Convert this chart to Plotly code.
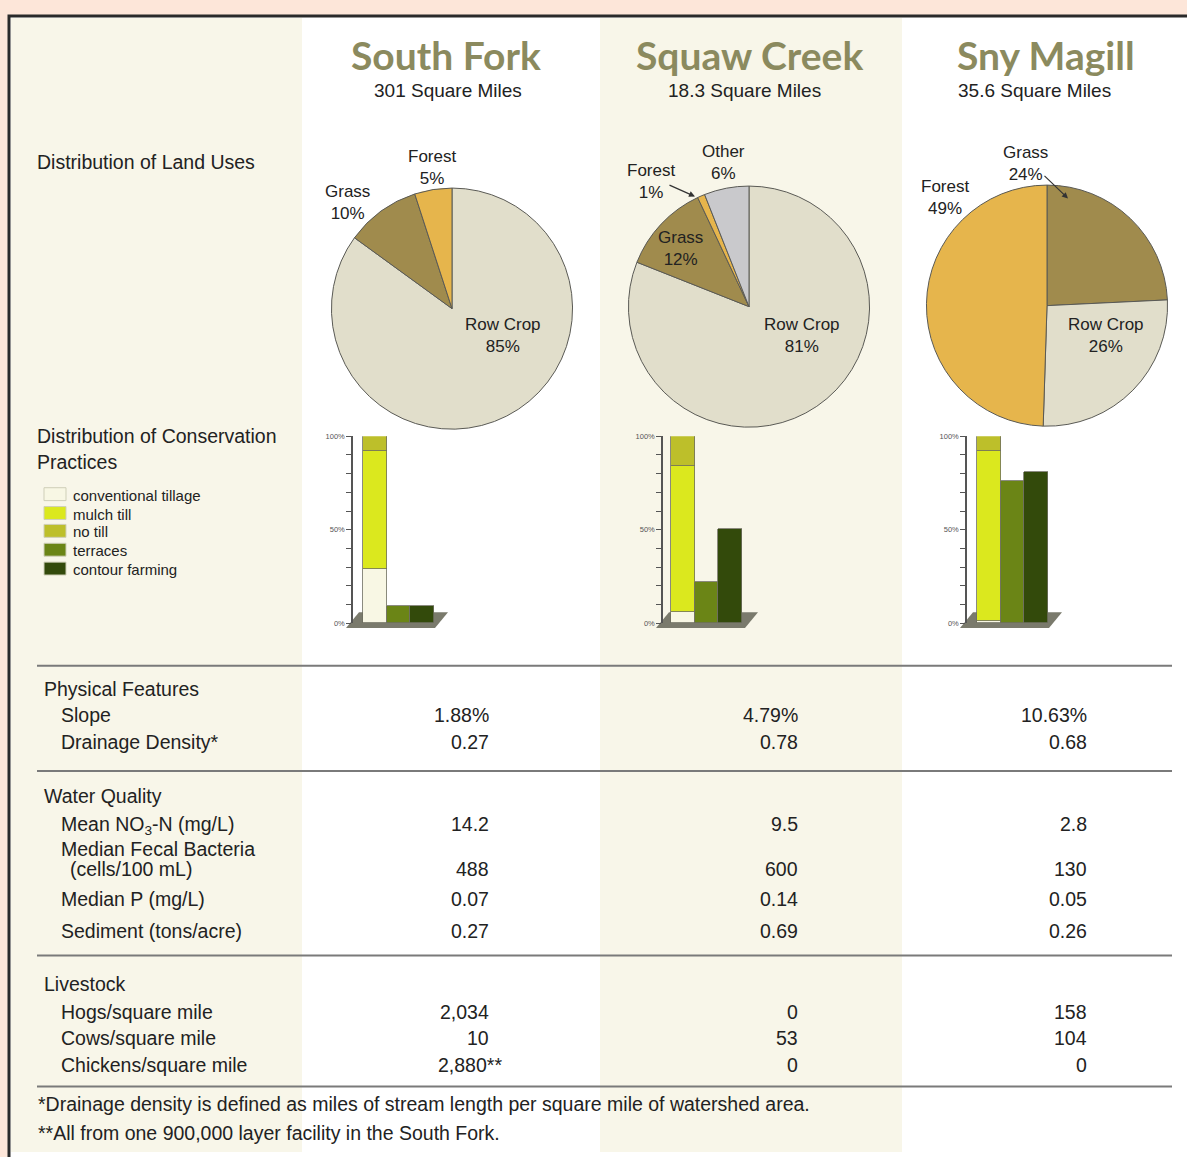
import plotly.graph_objects as go

W, H = 1187, 1157

def px(x):
    return x / W

def py(y):
    return 1 - y / H

# ---------------- DATA ----------------
watersheds = ["South Fork", "Squaw Creek", "Sny Magill"]
areas = ["301 Square Miles", "18.3 Square Miles", "35.6 Square Miles"]

land_labels_sf = ["Row Crop", "Grass", "Forest"]
land_values_sf = [85, 10, 5]
land_labels_sc = ["Row Crop", "Grass", "Forest", "Other"]
land_values_sc = [81, 12, 1, 6]
land_labels_sm = ["Grass", "Row Crop", "Forest"]
land_values_sm = [24, 26, 49]

practices = ["conventional tillage", "mulch till", "no till", "terraces", "contour farming"]
conv_tillage = [29, 6, 1]
mulch_till = [63, 78, 91]
no_till = [8, 16, 8]
terraces = [9, 22, 76]
contour_farming = [9, 50, 81]

slope = ["1.88%", "4.79%", "10.63%"]
drainage = ["0.27", "0.78", "0.68"]
no3 = ["14.2", "9.5", "2.8"]
fecal = ["488", "600", "130"]
median_p = ["0.07", "0.14", "0.05"]
sediment = ["0.27", "0.69", "0.26"]
hogs = ["2,034", "0", "158"]
cows = ["10", "53", "104"]
chickens = ["2,880**", "0", "0"]

# ---------------- STYLE ----------------
land_colors = {"Row Crop": "#e1decb", "Grass": "#a08b4d", "Forest": "#e6b54c", "Other": "#c9c9cc"}
practice_colors = ["#f8f7e4", "#dbe81e", "#bdbf2a", "#6b8516", "#334a0b"]
TXT = "#222222"
SANS = "Liberation Sans, Arial, sans-serif"
TITLE_COLOR = "#8b8a5e"
FS = 19.5

fig = go.Figure()
shapes = []
annotations = []

# background panels
shapes.append(dict(type="rect", xref="paper", yref="paper", x0=px(9), x1=px(1195), y0=py(12), y1=py(1170),
                   fillcolor="white", line=dict(color="#2a2a2a", width=3), layer="below"))
for x0, x1 in [(11, 302), (600, 902)]:
    shapes.append(dict(type="rect", xref="paper", yref="paper", x0=px(x0), x1=px(x1), y0=py(14), y1=py(1157),
                       fillcolor="#f8f6e9", line=dict(width=0), layer="below"))

# titles
title_x = [446, 749, 1046]
sub_x = [448, 744, 1034]
for i, name in enumerate(watersheds):
    annotations.append(dict(x=px(title_x[i]), y=py(51), xref="paper", yref="paper", text=name, showarrow=False,
                            font=dict(family="Lato, Open Sans, sans-serif", size=39, color=TITLE_COLOR, weight="bold"),
                            xanchor="center", yanchor="middle"))
    annotations.append(dict(x=px(sub_x[i]), y=py(87), xref="paper", yref="paper", text=areas[i], showarrow=False,
                            font=dict(family=SANS, size=19, color=TXT), xanchor="center", yanchor="middle"))

# left labels
for txt, y in [("Distribution of Land Uses", 159), ("Distribution of Conservation", 435), ("Practices", 462)]:
    annotations.append(dict(x=px(35), y=py(y), xref="paper", yref="paper", text=txt, showarrow=False,
                            font=dict(family=SANS, size=FS, color=TXT), xanchor="left", yanchor="middle"))

# ---------------- PIES ----------------
pie_sets = [(land_labels_sf, land_values_sf, (452, 307)),
            (land_labels_sc, land_values_sc, (749, 305)),
            (land_labels_sm, land_values_sm, (1047, 304))]
R = 121.5
for labels, values, (cx, cy) in pie_sets:
    fig.add_trace(go.Pie(labels=labels, values=values, sort=False, direction="clockwise", rotation=0,
                         textinfo="none", hoverinfo="label+percent", showlegend=False,
                         marker=dict(colors=[land_colors[l] for l in labels], line=dict(color="#5a5a55", width=1)),
                         domain=dict(x=[px(cx - R), px(cx + R)], y=[py(cy + R), py(cy - R)])))

# pie labels (positions are layout only)
pie_label_pos = [
    {"Forest": (432, 165), "Grass": (347, 200), "Row Crop": (503, 334)},
    {"Forest": (651, 179), "Other": (723, 160), "Grass": (680, 246), "Row Crop": (802, 334)},
    {"Grass": (1025, 161), "Forest": (945, 195), "Row Crop": (1106, 334)},
]
for (labels, values, _), pos in zip(pie_sets, pie_label_pos):
    for lab, val in zip(labels, values):
        x, y = pos[lab]
        annotations.append(dict(x=px(x), y=py(y), xref="paper", yref="paper", text=f"{lab}<br>{val}%",
                                showarrow=False, font=dict(family=SANS, size=17, color=TXT),
                                xanchor="center", yanchor="middle"))
# arrows
for (hx, hy, tx, ty) in [(695, 194, 668, 182), (1068, 196, 1043, 172)]:
    annotations.append(dict(x=px(hx), y=py(hy), xref="paper", yref="paper", text="", showarrow=True,
                            ax=tx - hx, ay=ty - hy, arrowhead=2, arrowsize=1, arrowwidth=1.2, arrowcolor="#333"))

# ---------------- BAR CHARTS ----------------
axis_x = [353, 663, 967]
first_left = [363, 671, 977]
unit = 23.5
y_top, y_bot = 435.7, 624.0
for i in range(3):
    n = "" if i == 0 else str(i + 1)
    xa, ya = "x" + n, "y" + n
    series = [(0, conv_tillage[i]), (0, mulch_till[i]), (0, no_till[i]), (1, terraces[i]), (2, contour_farming[i])]
    for k, (xpos, val) in enumerate(series):
        fig.add_trace(go.Bar(x=[xpos], y=[val], width=1, name=practices[k], showlegend=False,
                             marker=dict(color=practice_colors[k], line=dict(color="#6e6e60", width=0.8)),
                             xaxis=xa, yaxis=ya))
    start = -0.5 - (first_left[i] - axis_x[i]) / unit
    span_px = 110
    fig.layout["xaxis" + n] = dict(domain=[px(axis_x[i]), px(axis_x[i] + span_px)],
                                   range=[start, start + span_px / unit], visible=False, anchor=ya, fixedrange=True)
    fig.layout["yaxis" + n] = dict(domain=[py(y_bot), py(y_top)], range=[0, 100], anchor=xa,
                                   tickvals=list(range(0, 101, 10)),
                                   ticktext=["0%" if v == 0 else "50%" if v == 50 else "100%" if v == 100 else ""
                                             for v in range(0, 101, 10)],
                                   ticks="outside", ticklen=5, tickcolor="#555", tickwidth=1.2,
                                   tickfont=dict(family=SANS, size=7.5, color="#555"),
                                   showline=True, linecolor="#555", linewidth=1.5,
                                   showgrid=False, zeroline=False, fixedrange=True)
    a = axis_x[i]
    shapes.append(dict(type="path", xref="paper", yref="paper",
                       path=f"M {px(a-7)},{py(629)} L {px(a+82)},{py(629)} L {px(a+95)},{py(613)} L {px(a+6)},{py(613)} Z",
                       fillcolor="#7a7a6c", line=dict(width=0), layer="below"))

# legend (drawn)
leg_y = [494, 513, 531, 550, 569]
for k, name in enumerate(practices):
    shapes.append(dict(type="rect", xref="paper", yref="paper", x0=px(44), x1=px(66),
                       y0=py(leg_y[k] + 6.5), y1=py(leg_y[k] - 6.5),
                       fillcolor=practice_colors[k], line=dict(color="#cfcfb8", width=1)))
    annotations.append(dict(x=px(71), y=py(leg_y[k] + 1), xref="paper", yref="paper", text=name, showarrow=False,
                            font=dict(family=SANS, size=15, color=TXT), xanchor="left", yanchor="middle"))

# ---------------- TABLE ----------------
for y in [667, 773, 959, 1091]:
    shapes.append(dict(type="line", xref="paper", yref="paper", x0=px(37), x1=px(1172), y0=py(y), y1=py(y),
                       line=dict(color="#7a7a7a", width=2)))

headers = [("Physical Features", 690), ("Water Quality", 798), ("Livestock", 988)]
for txt, y in headers:
    annotations.append(dict(x=px(42), y=py(y), xref="paper", yref="paper", text=txt, showarrow=False,
                            font=dict(family=SANS, size=FS, color=TXT), xanchor="left", yanchor="middle"))

row_labels = [("Slope", 59, 717), ("Drainage Density*", 59, 744),
              ("Mean NO<sub>3</sub>-N (mg/L)", 59, 828), ("Median Fecal Bacteria", 59, 852),
              ("(cells/100 mL)", 68, 872), ("Median P (mg/L)", 59, 902), ("Sediment (tons/acre)", 59, 934),
              ("Hogs/square mile", 59, 1016), ("Cows/square mile", 59, 1042), ("Chickens/square mile", 59, 1069)]
for txt, x, y in row_labels:
    annotations.append(dict(x=px(x), y=py(y), xref="paper", yref="paper", text=txt, showarrow=False,
                            font=dict(family=SANS, size=FS, color=TXT), xanchor="left", yanchor="middle"))

value_rows = [(slope, 717), (drainage, 744), (no3, 826), (fecal, 872), (median_p, 902), (sediment, 934),
              (hogs, 1016), (cows, 1042), (chickens, 1069)]
val_right = [491, 800, 1089]
for vals, y in value_rows:
    for i, v in enumerate(vals):
        n_stars = len(v) - len(v.rstrip("*"))
        annotations.append(dict(x=px(val_right[i] + 6.5 * n_stars), y=py(y), xref="paper", yref="paper", text=v,
                                showarrow=False, font=dict(family=SANS, size=FS, color=TXT),
                                xanchor="right", yanchor="middle"))

footnotes = [("*Drainage density is defined as miles of stream length per square mile of watershed area.", 1109),
             ("**All from one 900,000 layer facility in the South Fork.", 1138)]
for txt, y in footnotes:
    annotations.append(dict(x=px(36), y=py(y), xref="paper", yref="paper", text=txt, showarrow=False,
                            font=dict(family=SANS, size=FS, color=TXT), xanchor="left", yanchor="middle"))

fig.update_layout(width=W, height=H, margin=dict(l=0, r=0, t=0, b=0),
                  paper_bgcolor="#fde6d9", plot_bgcolor="rgba(0,0,0,0)",
                  barmode="stack", bargap=0, shapes=shapes, annotations=annotations,
                  showlegend=False)

fig.write_html("out.html", config={"displayModeBar": False},
               post_script="document.body.style.margin='0px';document.body.style.padding='0px';")
